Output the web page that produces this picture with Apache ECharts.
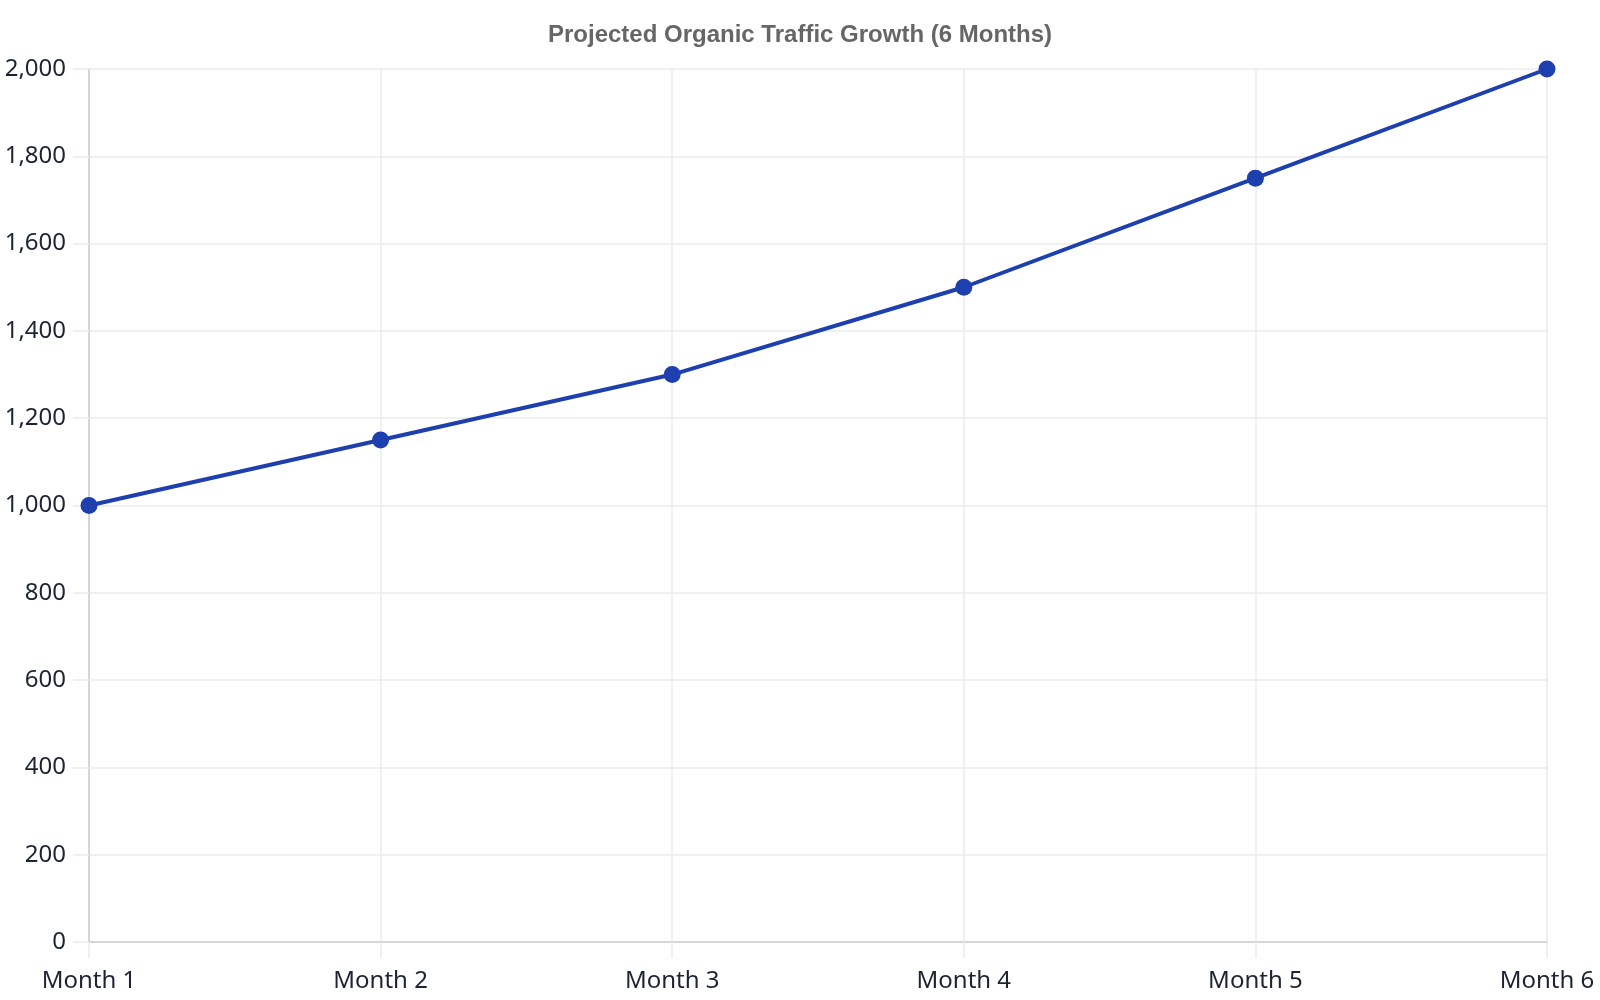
<!DOCTYPE html>
<html>
<head>
<meta charset="utf-8">
<title>Projected Organic Traffic Growth</title>
<script src="https://cdn.jsdelivr.net/npm/echarts@6/dist/echarts.min.js"></script>
<style>
  html, body { margin: 0; padding: 0; background: #fff; }
  #chart { width: 1600px; height: 1000px; }
</style>
</head>
<body>
<div id="chart"></div>
<script>
// data
const months = ['Month 1', 'Month 2', 'Month 3', 'Month 4', 'Month 5', 'Month 6']
const traffic = [1000, 1150, 1300, 1500, 1750, 2000]

const labelColor = '#1c2333'
const gridColor = '#ebebeb'

const chart = echarts.init(document.getElementById('chart'))
chart.setOption({
    animation: false,
    title: {
        text: 'Projected Organic Traffic Growth (6 Months)',
        left: 'center',
        top: 18,
        textStyle: {
            fontFamily: 'Liberation Sans',
            fontSize: 24,
            fontWeight: 'bold',
            color: '#666666'
        }
    },
    grid: { left: 89, right: 53, top: 69, bottom: 58, containLabel: false },
    xAxis: {
        type: 'category',
        data: months,
        boundaryGap: false,
        axisLine: { lineStyle: { color: '#cccccc', width: 1.5 } },
        axisTick: { show: true, length: 16, lineStyle: { color: gridColor, width: 1.5 } },
        splitLine: { show: true, lineStyle: { color: gridColor, width: 1.5 } },
        axisLabel: {
            margin: 27,
            fontFamily: 'Noto Sans',
            fontSize: 24,
            color: labelColor
        }
    },
    yAxis: {
        type: 'value',
        min: 0,
        max: 2000,
        interval: 200,
        axisLine: { show: true, lineStyle: { color: '#cccccc', width: 1.5 } },
        axisTick: { show: true, length: 16, lineStyle: { color: gridColor, width: 1.5 } },
        splitLine: { show: true, lineStyle: { color: gridColor, width: 1.5 } },
        axisLabel: {
            margin: 23,
            padding: [4, 0, 0, 0],
            fontFamily: 'Noto Sans',
            fontSize: 24,
            color: labelColor,
            formatter: v => v.toLocaleString('en-US')
        }
    },
    series: [
        {
            type: 'line',
            data: traffic,
            symbol: 'circle',
            symbolSize: 17,
            lineStyle: { color: '#1e40af', width: 4 },
            itemStyle: { color: '#1e40af' }
        }
    ]
})
</script>
</body>
</html>
